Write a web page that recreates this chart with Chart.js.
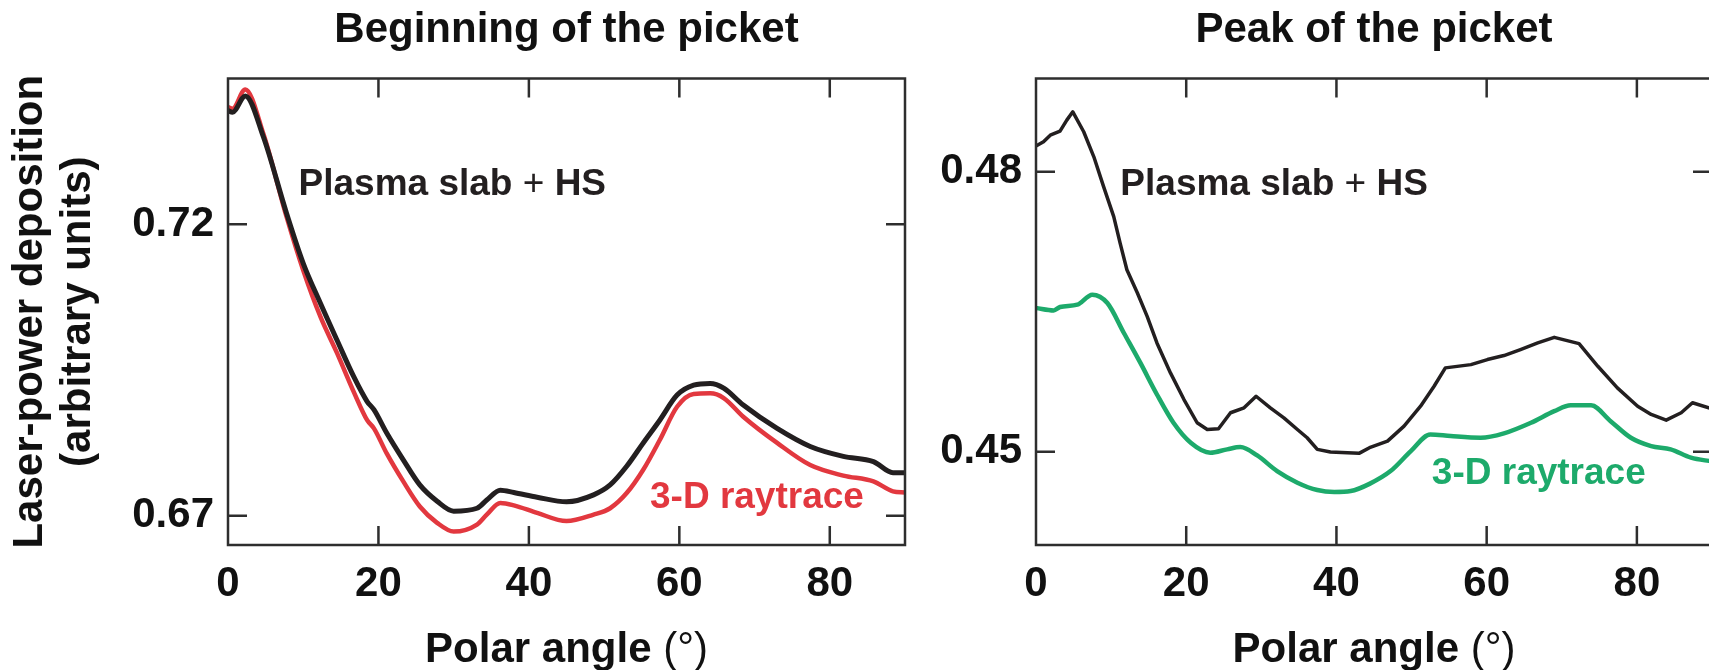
<!DOCTYPE html>
<html>
<head>
<meta charset="utf-8">
<title>Laser-power deposition vs polar angle</title>
<script src="https://cdn.jsdelivr.net/npm/chart.js@4.4.0/dist/chart.umd.min.js"></script>
<style>
  html, body { margin: 0; padding: 0; background: #fff; overflow: hidden; }
  body { width: 1709px; height: 670px; position: relative; }
  canvas { position: absolute; top: 0; }
  #beginning { left: 0; }
  #peak { left: 830px; }
</style>
</head>
<body>
<canvas id="beginning" width="940" height="670"></canvas>
<canvas id="peak" width="920" height="670"></canvas>
<script>
// beginning of the picket: both curves share the same angles
const beginAngle = [0, 0.6, 2.3, 4.7, 7.8, 10.0, 12.3, 14.5, 16.7, 18.5, 19.4, 21.1, 23.3, 25.5, 27.8,
  30.0, 33.1, 34.4, 36.2, 38.0, 41.1, 45.0, 48.6, 50.8, 53.0, 55.2, 57.4, 59.7, 61.9, 64.1,
  65.9, 68.5, 73.0, 77.4, 81.8, 85.8, 88.4, 90];
const beginSlabHS = [0.7395, 0.7392, 0.7420, 0.7350, 0.7218, 0.7133, 0.7064, 0.7001, 0.6939, 0.6896,
  0.6882, 0.6842, 0.6796, 0.6753, 0.6725, 0.6708, 0.6713, 0.6727, 0.6744, 0.6740, 0.6732, 0.6724,
  0.6736, 0.6753, 0.6785, 0.6825, 0.6864, 0.6907, 0.6924, 0.6927, 0.6919, 0.6890, 0.6850, 0.6819,
  0.6802, 0.6793, 0.6774, 0.6774];
const beginRaytrace = [0.7401, 0.7398, 0.7431, 0.7355, 0.7212, 0.7121, 0.7041, 0.6979, 0.6913, 0.6864,
  0.6850, 0.6807, 0.6759, 0.6716, 0.6688, 0.6673, 0.6685, 0.6702, 0.6722, 0.6718, 0.6705, 0.6691,
  0.6702, 0.6713, 0.6739, 0.6779, 0.6830, 0.6887, 0.6909, 0.6910, 0.6902, 0.6870, 0.6825, 0.6787,
  0.6769, 0.6759, 0.6742, 0.6740];

// peak of the picket
const peakSlabAngle = [0, 1.0, 1.9, 3.2, 4.1, 4.9, 6.35, 7.7, 9.0, 10.35, 11.2, 12.1, 13.5, 14.8, 16.1,
  17.9, 19.7, 21.45, 22.8, 24.3, 25.9, 27.7, 29.3, 31.2, 33.0, 34.8, 36.1, 37.45, 39.2, 41.45, 43.0,
  44.4, 46.8, 49.0, 51.2, 53.0, 54.5, 57.9, 60.1, 62.3, 64.5, 66.8, 69.0, 72.3, 74.8, 77.4, 80.1,
  81.9, 83.9, 85.9, 87.4, 90];
const peakSlabHS = [0.48275, 0.48321, 0.48392, 0.48435, 0.48553, 0.48642, 0.48428, 0.48160, 0.47840,
  0.47519, 0.47234, 0.46949, 0.46700, 0.46450, 0.46165, 0.45844, 0.45559, 0.45310, 0.45238, 0.45246,
  0.45417, 0.45470, 0.45594, 0.45470, 0.45363, 0.45238, 0.45149, 0.45025, 0.44996, 0.44989, 0.44982,
  0.45043, 0.45113, 0.45274, 0.45487, 0.45701, 0.45898, 0.45933, 0.45987, 0.46030, 0.46094, 0.46165,
  0.46225, 0.46158, 0.45915, 0.45684, 0.45487, 0.45399, 0.45338, 0.45417, 0.45524, 0.45460];
const peakRayAngle = [0, 2.35, 3.2, 5.5, 7.5, 9.5, 11.7, 13.9, 16.1, 18.3, 20.6, 23.2, 25.45, 27.2,
  29.45, 32.1, 34.8, 37.45, 39.7, 41.9, 44.4, 47.2, 49.9, 52.5, 55.2, 59.2, 62.3, 65.9, 69.0, 71.2,
  73.9, 76.5, 79.2, 81.9, 84.5, 87.2, 90];
const peakRaytrace = [0.46540, 0.46514, 0.46550, 0.46575, 0.46682, 0.46593, 0.46272, 0.45951, 0.45613,
  0.45310, 0.45096, 0.44989, 0.45025, 0.45049, 0.44960, 0.44792, 0.44668, 0.44589, 0.44568, 0.44578,
  0.44655, 0.44792, 0.45006, 0.45185, 0.45167, 0.45149, 0.45196, 0.45310, 0.45434, 0.45498, 0.45498,
  0.45327, 0.45149, 0.45060, 0.45025, 0.44936, 0.44895];

const angleTicks = [0, 20, 40, 60, 80];
const beginTicks = [0.67, 0.72];
const peakTicks = [0.45, 0.48];

const FONT = "'Liberation Sans', Arial, Helvetica, sans-serif";
const INK = '#231f20';
const RED = '#e2383f';
const GREEN = '#1daa6b';

Chart.defaults.font.family = FONT;

function pts(xs, ys) {
    return xs.map((x, i) => ({ x: x, y: ys[i] }));
}

// box around the plot area with inward ticks on all four sides
const frameTicks = {
    id: 'frameTicks',
    afterDatasetsDraw(chart) {
        const { ctx, chartArea: a, scales: { x, y } } = chart;
        const len = 19;
        ctx.save();
        ctx.strokeStyle = '#2e2e2e';
        ctx.lineWidth = 2.5;
        ctx.beginPath();
        ctx.rect(a.left, a.top, a.right - a.left, a.bottom - a.top);
        x.ticks.forEach(t => {
            if (t.value <= x.min || t.value >= x.max) return;
            const px = x.getPixelForValue(t.value);
            ctx.moveTo(px, a.bottom); ctx.lineTo(px, a.bottom - len);
            ctx.moveTo(px, a.top); ctx.lineTo(px, a.top + len);
        });
        y.ticks.forEach(t => {
            const py = y.getPixelForValue(t.value);
            ctx.moveTo(a.left, py); ctx.lineTo(a.left + len, py);
            ctx.moveTo(a.right, py); ctx.lineTo(a.right - len, py);
        });
        ctx.stroke();
        ctx.restore();
    }
};

// text made of bold and regular pieces
function drawRun(ctx, parts, x, y, size, align) {
    let width = 0;
    parts.forEach(p => {
        ctx.font = p[1] + ' ' + size + 'px ' + FONT;
        width += ctx.measureText(p[0]).width;
    });
    let cx = align === 'center' ? x - width / 2 : x;
    parts.forEach(p => {
        ctx.font = p[1] + ' ' + size + 'px ' + FONT;
        ctx.fillText(p[0], cx, y);
        cx += ctx.measureText(p[0]).width;
    });
}

// curve labels and the x axis title
const panelText = {
    id: 'panelText',
    afterDraw(chart, args, opts) {
        const { ctx, chartArea: a, scales: { x, y } } = chart;
        ctx.save();
        ctx.textBaseline = 'alphabetic';
        (opts.labels || []).forEach(l => {
            ctx.fillStyle = l.color;
            drawRun(ctx, l.parts, x.getPixelForValue(l.at[0]), y.getPixelForValue(l.at[1]), 37, 'left');
        });
        ctx.fillStyle = '#111';
        drawRun(ctx, [['Polar angle ', 'bold'], ['(°)', 'normal']], (a.left + a.right) / 2, chart.height - 8, 42, 'center');
        ctx.restore();
    }
};

function panel(id, c) {
    const tickFont = { size: 42, weight: 'bold', lineHeight: 1.2 };
    return new Chart(document.getElementById(id), {
        type: 'line',
        data: { datasets: c.datasets },
        options: {
            responsive: false,
            animation: false,
            layout: { padding: { left: 0, right: c.padRight, top: 0, bottom: 0 } },
            elements: {
                point: { radius: 0 },
                line: { borderCapStyle: 'round', borderJoinStyle: 'round' }
            },
            plugins: {
                legend: { display: false },
                tooltip: { enabled: false },
                title: {
                    display: true,
                    text: c.title,
                    fullSize: false,
                    color: '#111',
                    font: { size: 42, weight: 'bold', lineHeight: 1.2 },
                    padding: { top: 5, bottom: 23 }
                },
                panelText: { labels: c.labels }
            },
            scales: {
                x: {
                    type: 'linear',
                    min: 0,
                    max: 90,
                    grid: { display: false, drawTicks: false },
                    border: { display: false },
                    afterBuildTicks: s => { s.ticks = angleTicks.map(v => ({ value: v })); },
                    afterFit: s => { s.height = 125; },
                    ticks: { autoSkip: false, maxRotation: 0, padding: 14, color: '#111', font: tickFont }
                },
                y: {
                    type: 'linear',
                    min: c.yMin,
                    max: c.yMax,
                    grid: { display: false, drawTicks: false },
                    border: { display: false },
                    afterBuildTicks: s => { s.ticks = c.yTicks.map(v => ({ value: v })); },
                    afterFit: s => { s.width = c.yWidth; },
                    ticks: {
                        padding: 14,
                        color: '#111',
                        font: tickFont,
                        callback: v => v.toFixed(2)
                    },
                    title: c.yTitle ? {
                        display: true,
                        text: c.yTitle,
                        color: '#111',
                        font: { size: 42, weight: 'bold', lineHeight: 1.13 },
                        padding: { top: 7, bottom: 0 }
                    } : { display: false }
                }
            }
        },
        plugins: [frameTicks, panelText]
    });
}

panel('beginning', {
    title: 'Beginning of the picket',
    yMin: 0.665,
    yMax: 0.745,
    yTicks: beginTicks,
    yWidth: 228,
    padRight: 35,
    yTitle: ['Laser-power deposition', '(arbitrary units)'],
    datasets: [
        { data: pts(beginAngle, beginSlabHS), borderColor: INK, borderWidth: 5, cubicInterpolationMode: 'monotone' },
        { data: pts(beginAngle, beginRaytrace), borderColor: RED, borderWidth: 4.5, cubicInterpolationMode: 'monotone' }
    ],
    labels: [
        { parts: [['Plasma slab ', 'bold'], ['+', 'normal'], [' HS', 'bold']], at: [9.38, 0.72497], color: INK },
        { parts: [['3-D raytrace', 'bold']], at: [56.1, 0.67137], color: RED }
    ]
});

panel('peak', {
    title: 'Peak of the picket',
    yMin: 0.44,
    yMax: 0.49,
    yTicks: peakTicks,
    yWidth: 206,
    padRight: 38,
    yTitle: null,
    datasets: [
        { data: pts(peakSlabAngle, peakSlabHS), borderColor: INK, borderWidth: 3.5, tension: 0 },
        { data: pts(peakRayAngle, peakRaytrace), borderColor: GREEN, borderWidth: 4.5, cubicInterpolationMode: 'monotone' }
    ],
    labels: [
        { parts: [['Plasma slab ', 'bold'], ['+', 'normal'], [' HS', 'bold']], at: [11.23, 0.47751], color: INK },
        { parts: [['3-D raytrace', 'bold']], at: [52.7, 0.4465], color: GREEN }
    ]
});
</script>
</body>
</html>
